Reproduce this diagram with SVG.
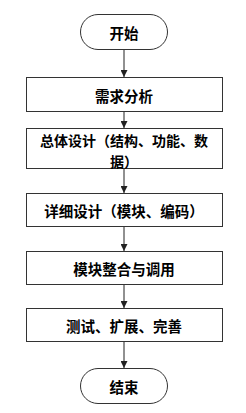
<svg xmlns="http://www.w3.org/2000/svg" width="246" height="413" viewBox="0 0 246 413">
<defs>
<marker id="ah" markerWidth="7" markerHeight="7" refX="7" refY="3.5" orient="auto" markerUnits="userSpaceOnUse">
<path d="M0,0 L7,3.5 L0,7 Z" fill="#222"/>
</marker>
<style>
.box{fill:#fff;stroke:#333;stroke-width:1}
.t{font-family:"Noto Sans CJK SC","Liberation Sans",sans-serif;font-size:14.5px;font-weight:bold;fill:#000;text-anchor:middle;dominant-baseline:central}
.c{stroke:#222;stroke-width:1;fill:none;marker-end:url(#ah)}
</style>
</defs>
<rect width="246" height="413" fill="#fff"/>
<g id="connectors">
<line class="c" x1="124" y1="49" x2="124" y2="77"/>
<line class="c" x1="124" y1="112" x2="124" y2="128"/>
<line class="c" x1="124" y1="169" x2="124" y2="193"/>
<line class="c" x1="124" y1="227" x2="124" y2="251"/>
<line class="c" x1="124" y1="284" x2="124" y2="308"/>
<line class="c" x1="124" y1="342" x2="124" y2="368"/>
</g>
<g id="start">
<rect class="box" x="80.5" y="14.5" width="87" height="35" rx="17.5"/>
<text class="t" x="124" y="32">开始</text>
</g>
<g id="n1">
<rect class="box" x="26.5" y="77.5" width="196" height="34"/>
<text class="t" x="124" y="95">需求分析</text>
</g>
<g id="n2">
<rect class="box" x="26.5" y="128.5" width="196" height="40"/>
<text class="t" x="124" y="140" style="font-size:14px">总体设计（结构、功能、数</text>
<text class="t" x="124" y="161" style="font-size:14px">据）</text>
</g>
<g id="n3">
<rect class="box" x="26.5" y="193.5" width="196" height="33"/>
<text class="t" x="124" y="210">详细设计（模块、编码）</text>
</g>
<g id="n4">
<rect class="box" x="26.5" y="251.5" width="196" height="33"/>
<text class="t" x="124" y="268">模块整合与调用</text>
</g>
<g id="n5">
<rect class="box" x="26.5" y="308.5" width="196" height="33"/>
<text class="t" x="124" y="325">测试、扩展、完善</text>
</g>
<g id="end">
<rect class="box" x="80.5" y="368.5" width="87" height="35" rx="17.5"/>
<text class="t" x="124" y="386">结束</text>
</g>
</svg>
